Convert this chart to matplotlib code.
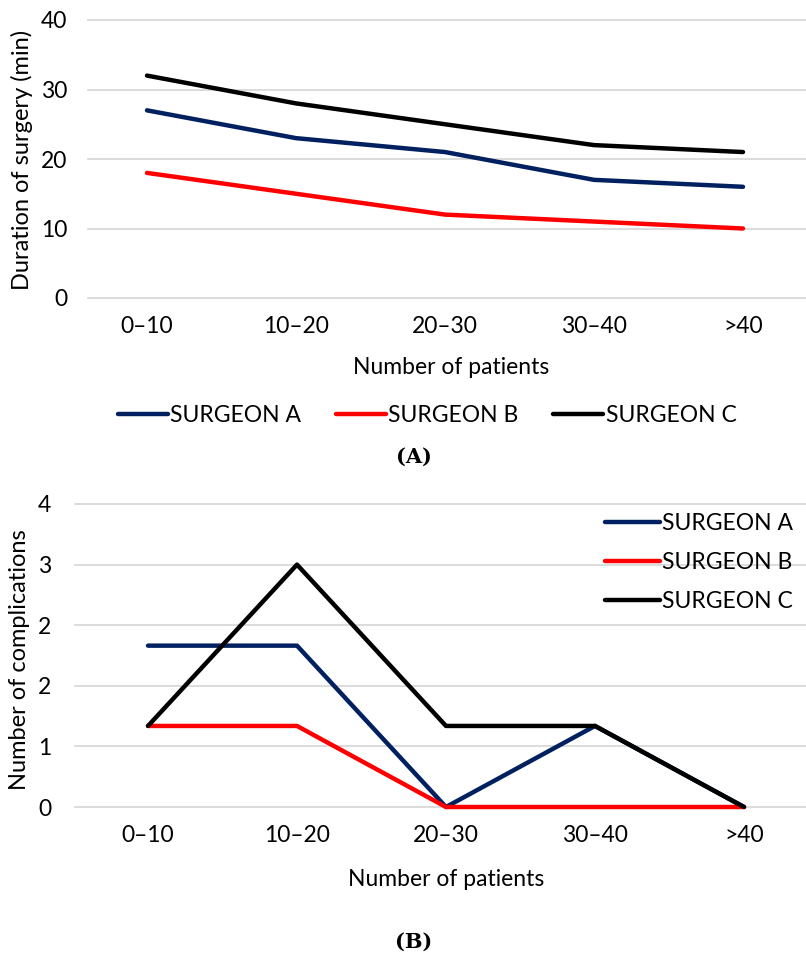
import matplotlib
matplotlib.use("Agg")
from matplotlib import pyplot as plt
from matplotlib.ticker import FixedLocator, FormatStrFormatter

categories = ["0–10", "10–20", "20–30", "30–40", ">40"]

# panel A: duration of surgery (min)
durA = [27, 23, 21, 17, 16]
durB = [18, 15, 12, 11, 10]
durC = [32, 28, 25, 22, 21]

# panel B: number of complications
compA = [2.13, 2.13, 0, 1.07, 0]
compB = [1.07, 1.07, 0, 0, 0]
compC = [1.07, 3.2, 1.07, 1.07, 0]

names = ["SURGEON A", "SURGEON B", "SURGEON C"]
colors = ["#002060", "#FF0000", "#000000"]

plt.rcParams['font.family'] = ['Lato', 'DejaVu Sans']
FS = 16.5

W, H = 806, 961
fig = plt.figure(figsize=(W / 100, H / 100), dpi=100)


def box(left, top, right, bottom):
    return [left / W, 1 - bottom / H, (right - left) / W, (bottom - top) / H]


def fx(px):
    return px / W


def fy(py):
    return 1 - py / H


def style(ax, x0px, ticks, fmt, ypad):
    x = list(range(len(categories)))
    ax.set_xticks(x)
    ax.set_xticklabels(categories)
    ax.yaxis.set_major_locator(FixedLocator(ticks))
    ax.yaxis.set_major_formatter(FormatStrFormatter(fmt))
    ax.set_ylim(ticks[0], ticks[-1])
    # category spacing of ~149 px, first category at x0px
    pos = ax.get_position()
    left = pos.x0 * W
    right = (pos.x0 + pos.width) * W
    ax.set_xlim((left - x0px) / 149.0, (right - x0px) / 149.0)
    ax.grid(axis="y", color="#D9D9D9", linewidth=1.3)
    ax.set_axisbelow(True)
    for s in ax.spines.values():
        s.set_visible(False)
    ax.tick_params(axis="both", length=0, labelsize=FS, colors="black")
    ax.tick_params(axis="x", pad=13)
    ax.tick_params(axis="y", pad=ypad)
    for gl in ax.get_ygridlines():
        gl.set_clip_on(False)


x = list(range(len(categories)))

# ---- panel A ----
ax1 = fig.add_axes(box(88, 20, 806, 298))
handles = []
for vals, name, c in zip([durA, durB, durC], names, colors):
    h, = ax1.plot(x, vals, color=c, linewidth=3.2, label=name, solid_capstyle="round", clip_on=False)
    handles.append(h)
style(ax1, 147, [0, 10, 20, 30, 40], "%d", 15)
fig.text(fx(22), fy(160), "Duration of surgery (min)", fontsize=17, rotation=90,
         ha="center", va="center")
fig.text(fx(451), fy(367), "Number of patients", fontsize=FS, ha="center", va="center")
fig.legend(handles=handles, loc="center", bbox_to_anchor=(fx(427), fy(416)), ncol=3,
           frameon=False, fontsize=FS, handlelength=2.2, handletextpad=0.1,
           columnspacing=1.5, borderpad=0, borderaxespad=0)
fig.text(fx(414), fy(457), "(A)", family="DejaVu Serif", fontweight="bold",
         fontsize=15, ha="center", va="center")

# ---- panel B ----
ax2 = fig.add_axes(box(75, 504, 806, 807))
handles = []
for vals, name, c in zip([compA, compB, compC], names, colors):
    h, = ax2.plot(x, vals, color=c, linewidth=3.2, label=name, solid_capstyle="round", clip_on=False)
    handles.append(h)
style(ax2, 148, [0, 0.8, 1.6, 2.4, 3.2, 4.0], "%.0f", 17)
fig.text(fx(20), fy(660), "Number of complications", fontsize=17, rotation=90,
         ha="center", va="center")
fig.text(fx(446), fy(880), "Number of patients", fontsize=FS, ha="center", va="center")
fig.legend(handles=handles, loc="upper left", bbox_to_anchor=(fx(605), fy(513)),
           frameon=False, fontsize=FS, handlelength=2.4, handletextpad=0.1,
           labelspacing=0.78, borderpad=0, borderaxespad=0)
fig.text(fx(414), fy(942), "(B)", family="DejaVu Serif", fontweight="bold",
         fontsize=15, ha="center", va="center")

fig.savefig("out.png", dpi=100)
